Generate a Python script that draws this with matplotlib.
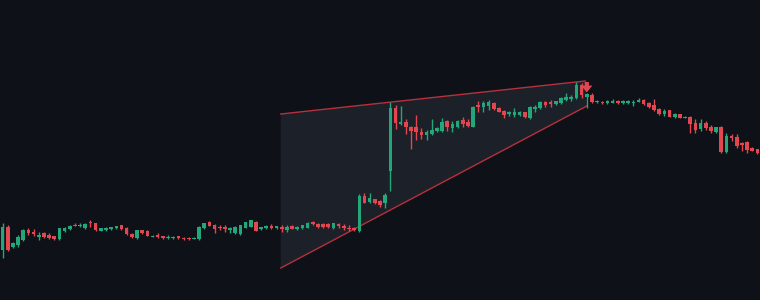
import numpy as np
import matplotlib
matplotlib.use("Agg")
import matplotlib.pyplot as plt
from matplotlib.patches import Polygon

# OHLC (arbitrary price units)
opens = [50, 73.3, 53.3, 55, 60, 70, 68.3, 63.3, 66.7, 65, 64, 61, 69.3, 70.7, 75, 74, 71.7, 77.7, 76.7, 69.3,
         70, 70.7, 71.7, 75, 72.3, 66, 61.7, 70, 69.3, 63.3, 65, 64, 62.3, 62.3, 64, 62.3, 62.3, 61, 60.7, 71.7,
         78.3, 75, 73.3, 73.3, 70, 66.7, 65.7, 72.3, 73.3, 78.3, 70.7, 71.7, 74.3, 71.7, 73.3, 70, 74.3, 70.7, 71.7, 72.3,
         77.7, 76, 75.7, 75.7, 72.3, 75.7, 74, 72.3, 72.3, 69, 104.3, 98.3, 101, 99.3, 96.7, 129, 192, 175.7, 178.3, 173.3,
         172.7, 168, 164.7, 166, 169, 169, 179, 172.3, 173.3, 180, 178.3, 173.3, 195, 193.3, 194.3, 196.7, 192.3, 189, 185.7, 185,
         185, 187.7, 181.7, 190.7, 191.7, 197.7, 198.3, 195.7, 196.7, 200, 201, 201.7, 215, 203.3, 205, 197.7, 198.3, 196.7, 197.3, 199,
         197, 197, 196.7, 198.3, 200, 196.7, 195, 191, 186, 190, 182.7, 185.7, 182.3, 183.3, 176.7, 170.7, 176.7, 172.7, 167.7, 172.7,
         147.7, 164.3, 163, 156.7, 158.3, 152.3, 151]
highs = [76.7, 75, 58.3, 65, 71, 71.7, 71, 67.7, 67.7, 66.7, 64.5, 72, 73.3, 75, 76.7, 76.7, 76.7, 80, 77, 72,
         73, 73.5, 74.5, 75.5, 72.7, 66.7, 70.5, 70.5, 69.7, 65, 66.7, 64.5, 65, 64.3, 64.5, 62.7, 62.7, 63.3, 73.7, 77.3,
         78.7, 75.7, 75, 75, 73.3, 73.7, 75.3, 78, 80.3, 78.7, 73.3, 74.7, 75.7, 74.5, 75, 75, 74.7, 73.7, 75.3, 77.7,
         79, 77.3, 77.3, 77.3, 77.3, 76.7, 75.7, 75, 72.7, 105.7, 106.7, 106.7, 101.3, 99.7, 107.3, 198.3, 195, 194, 181, 174.3,
         185, 171.7, 170, 181, 173.3, 181.7, 180, 179, 180, 183.3, 181, 193.7, 199, 199, 200, 197.7, 193, 190, 189.3, 191.7,
         188.7, 188, 194.3, 195, 198.7, 199, 200, 199.5, 203.3, 206.7, 205, 218.3, 216.7, 206.7, 206.7, 200, 199, 200, 200.7, 199.7,
         200, 200, 200, 201.7, 201, 198.3, 201, 192.3, 190.7, 190.3, 186.7, 186, 184, 184.3, 181, 181, 179, 175, 173.3, 174.3,
         166.7, 165.7, 165.7, 158.3, 159.3, 152.7, 151.3]
lows = [42, 49, 51.7, 53.3, 59, 65, 64.3, 60, 62.3, 61, 60.5, 60.5, 67.7, 70, 73.7, 73.3, 71, 73.3, 69.5, 69,
        69.5, 70.3, 71.3, 70.5, 65.3, 61.7, 61.3, 66, 64, 62.7, 61.7, 61.3, 60.7, 60.7, 61.3, 60.3, 60.3, 60.7, 60.3, 71.3,
        74, 66.7, 70, 68.3, 66.7, 66.3, 65.3, 72, 73, 68.7, 70, 71.3, 70.7, 71, 68.3, 68.3, 70.7, 70.3, 71.3, 72,
        75, 71.7, 71.7, 71.7, 71, 71.7, 70, 69, 69, 68.3, 96.7, 97.3, 96.3, 92.7, 91.7, 109, 170.7, 174.7, 166, 151,
        160, 160.7, 160, 165, 167.7, 168.3, 169, 168.3, 171.7, 173.3, 172.7, 173, 188.3, 188.3, 190, 190, 187.7, 182.3, 184.3, 183.3,
        184, 182.3, 181.3, 188.3, 191.3, 193.3, 193.3, 195, 195.7, 199, 199.3, 201, 202.3, 191.7, 196.7, 196.7, 196, 196, 196.7, 196,
        196, 196, 194.3, 197.7, 195, 191.7, 189, 185, 184.3, 183, 182.3, 182, 182, 166.7, 166.7, 169, 170, 166.7, 166.7, 146.7,
        146.7, 159.3, 151.7, 149, 146.7, 148.7, 146.3]
closes = [73.3, 50, 57.3, 63.3, 70, 66.7, 65.7, 65, 63.3, 62.3, 61, 71.7, 71.7, 74, 74, 75, 76, 76.7, 70, 71.7,
          72.3, 73, 74, 71, 65.7, 63.3, 70, 66.7, 64.3, 64.3, 63.3, 61.7, 63.3, 63.3, 61.7, 60.7, 60.7, 61.7, 73.3, 76.7,
          74.3, 71, 71.7, 71, 72.3, 73.3, 75, 77.7, 80, 69, 72.7, 74.3, 72.3, 74, 70.7, 73.3, 71, 73.3, 75, 77.3,
          75.7, 73.3, 72.7, 73.3, 76.7, 74.3, 72.3, 70.7, 70, 104.3, 97.3, 101.7, 96.7, 95, 105, 192.3, 177, 178.3, 173, 169.5,
          168, 164.7, 168, 170, 171.7, 178.3, 172.7, 175.7, 179, 175.7, 174.3, 193.3, 192.7, 196.7, 197.7, 191, 188.3, 185, 188.3, 188.3,
          187.7, 183.3, 193.3, 193.3, 198.3, 195, 195.7, 199, 201.7, 203.3, 203.3, 215, 205, 205.7, 198.3, 199, 196.7, 199, 199.3, 196.7,
          199, 199, 198.3, 200, 195.7, 193.3, 190, 186, 189.3, 183.3, 186, 182.3, 183.3, 175.7, 170, 177, 171.7, 169, 172.7, 147.7,
          164.3, 161.7, 154.3, 155, 150, 149, 146.7]

# rising wedge anchors (bar index, price)
wedge_upper = [(53.8, 186), (112.7, 219)]
wedge_lower = [(53.8, 32), (113.0, 194)]
signal_bar = 113
signal_top = 218

bg = '#0e1118'
up_col = '#22a67a'
down_col = '#e2474f'
line_col = '#b8303b'

o = np.array(opens); h = np.array(highs); l = np.array(lows); c = np.array(closes)
x = np.arange(len(o))
cols = [up_col if cc >= oo else down_col for oo, cc in zip(o, c)]

fig = plt.figure(figsize=(7.6, 3.0), dpi=100, facecolor=bg)
ax = fig.add_axes([0, 0, 1, 1])
ax.set_facecolor(bg)

poly = Polygon([wedge_upper[0], wedge_upper[1], wedge_lower[1], wedge_lower[0]],
               closed=True, facecolor='#1c2029', edgecolor='none', zorder=1)
ax.add_patch(poly)
ax.plot([p[0] for p in wedge_upper], [p[1] for p in wedge_upper], color=line_col, lw=1.0, zorder=2)
ax.plot([p[0] for p in wedge_lower], [p[1] for p in wedge_lower], color=line_col, lw=1.0, zorder=2)

ax.vlines(x, l, h, colors=cols, lw=1.0, zorder=3)
body_lo = np.minimum(o, c)
body_h = np.maximum(np.abs(c - o), 0.8)
ax.bar(x, body_h, bottom=body_lo, width=0.7, color=cols, linewidth=0, zorder=4)

# sell signal arrow at the wedge apex
ax.annotate('', xy=(signal_bar, signal_top - 10.5), xytext=(signal_bar, signal_top),
            arrowprops=dict(arrowstyle='simple,head_width=0.8,head_length=0.5,tail_width=0.3',
                            color=down_col, lw=0, shrinkA=0, shrinkB=0), zorder=5)

ax.set_xlim(-0.5, len(o) - 0.5)
ax.set_ylim(0, 300)
ax.axis('off')

fig.savefig('out.png', dpi=100, facecolor=bg)
